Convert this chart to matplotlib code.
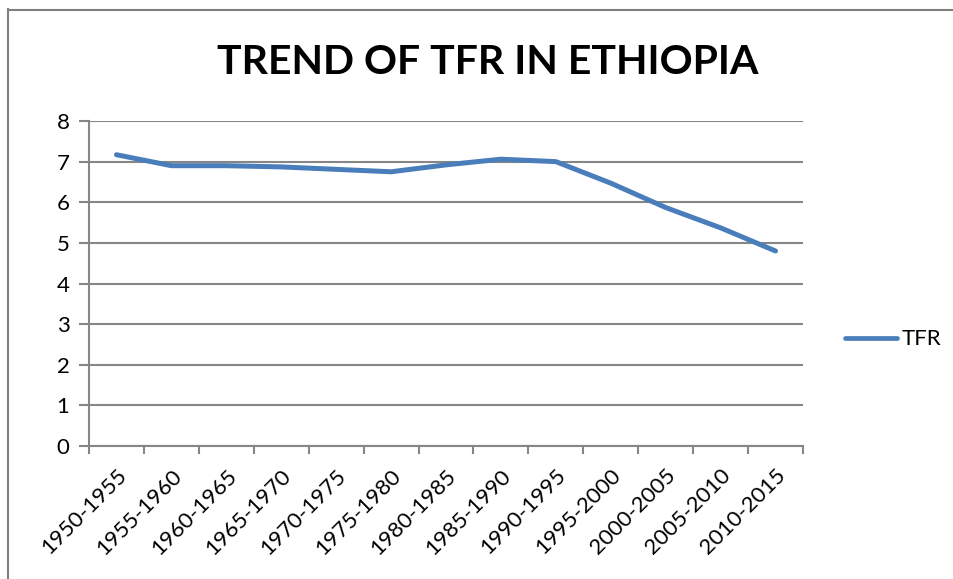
import matplotlib
matplotlib.use("Agg")
import matplotlib.pyplot as plt
from matplotlib.lines import Line2D
import numpy as np

periods = ["1950-1955", "1955-1960", "1960-1965", "1965-1970", "1970-1975",
           "1975-1980", "1980-1985", "1985-1990", "1990-1995", "1995-2000",
           "2000-2005", "2005-2010", "2010-2015"]
tfr = [7.17, 6.90, 6.90, 6.87, 6.81, 6.75, 6.92, 7.06, 7.00, 6.47, 5.87, 5.37, 4.80]
y_ticks = [0, 1, 2, 3, 4, 5, 6, 7, 8]
title = "TREND OF TFR IN ETHIOPIA"
series_name = "TFR"

plt.rcParams['font.family'] = ['Lato', 'DejaVu Sans']

W, H = 954, 579
fig = plt.figure(figsize=(W / 100, H / 100), dpi=100)
ax = fig.add_axes([89 / W, 1 - 446 / H, (803 - 89) / W, (446 - 121) / H])

grid_c = "#868686"
line_c = "#4A7EBB"
fs = 16

x = np.arange(len(periods))
ax.plot(x, tfr, color=line_c, lw=3.6, solid_capstyle='round', solid_joinstyle='round',
        zorder=3)

ax.set_xlim(-0.5, len(periods) - 0.5)
ax.set_ylim(0, 8)
ax.set_yticks(y_ticks)
ax.set_yticklabels([str(v) for v in y_ticks], fontsize=fs)
ax.yaxis.grid(True, color=grid_c, lw=1.5)
ax.set_axisbelow(True)

ax.set_xticks(x)
ax.set_xticklabels(periods, rotation=45, ha='right', rotation_mode='anchor', fontsize=fs)
ax.tick_params(axis='x', which='major', length=0, pad=14)
ax.set_xticks(np.arange(-0.5, len(periods), 1.0), minor=True)
ax.tick_params(axis='x', which='minor', length=6, width=1.5, color=grid_c, direction='out')
ax.tick_params(axis='y', which='major', length=7, width=1.5, color=grid_c, direction='out', pad=7)

for s in ['top', 'right']:
    ax.spines[s].set_visible(False)
for s in ['left', 'bottom']:
    ax.spines[s].set_color(grid_c)
    ax.spines[s].set_linewidth(1.5)

fig.text(488 / W, 1 - 62 / H, title, ha='center', va='center', fontsize=29.5, fontweight='bold')

# legend (drawn manually for exact placement)
fig.add_artist(Line2D([845 / W, 897 / W], [1 - 338 / H, 1 - 338 / H], transform=fig.transFigure,
                      color=line_c, lw=3.4, solid_capstyle='round'))
fig.text(902 / W, 1 - 339 / H, series_name, ha='left', va='center', fontsize=fs)

# outer frame (left and top edges)
fig.add_artist(Line2D([8.5 / W, 8.5 / W], [0, 1 - 9 / H], transform=fig.transFigure,
                      color="#7f7f7f", lw=1.5))
fig.add_artist(Line2D([8.5 / W, 1], [1 - 9.5 / H, 1 - 9.5 / H], transform=fig.transFigure,
                      color="#7f7f7f", lw=1.5))

fig.savefig("out.png", dpi=100, facecolor="white")
